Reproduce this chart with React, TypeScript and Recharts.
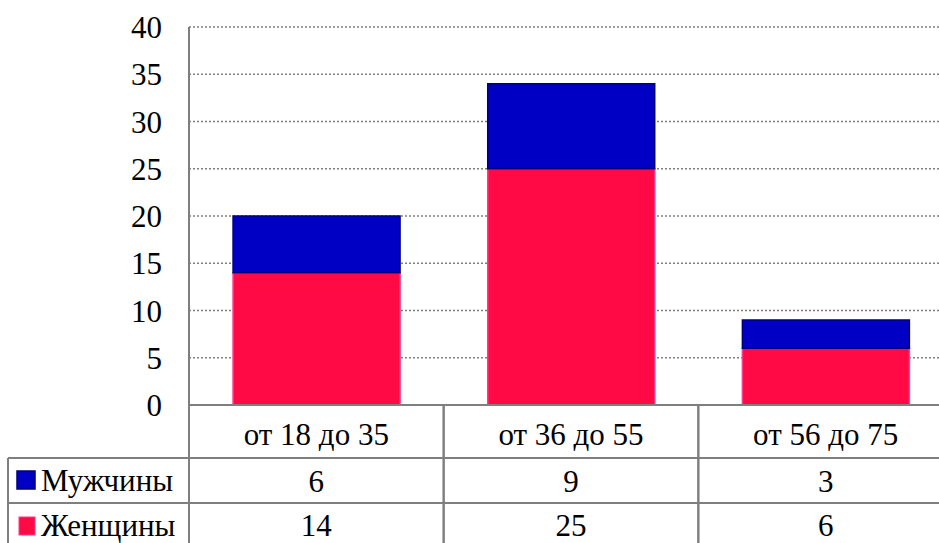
import React from "react";
import { BarChart, Bar, XAxis, YAxis, CartesianGrid } from "recharts";

const categories = ["от 18 до 35", "от 36 до 55", "от 56 до 75"];
const men = [6, 9, 3];
const women = [14, 25, 6];
const yTicks = [0, 5, 10, 15, 20, 25, 30, 35, 40];
const seriesNames = { men: "Мужчины", women: "Женщины" };

const data = categories.map((c, i) => ({ name: c, men: men[i], women: women[i] }));

const FONT = "'Times New Roman', Tinos, 'Liberation Serif', 'DejaVu Serif', serif";
const LINE = "#7f7f7f";
const HALF = 127.35;
const txt = { fontFamily: FONT, fontSize: 31 };

function TableTick(props: any) {
  const { x, y, payload } = props;
  const i = payload.index;
  const top = y;
  const r1 = 458;
  const r2 = 503;
  const bottom = 543;
  return (
    <g>
      <line x1={x - HALF} y1={top} x2={x - HALF} y2={bottom} stroke={LINE} strokeWidth={2} />
      <line x1={x + HALF} y1={top} x2={x + HALF} y2={bottom} stroke={LINE} strokeWidth={2} />
      <line x1={x - HALF} y1={r1} x2={x + HALF} y2={r1} stroke={LINE} strokeWidth={2} />
      <line x1={x - HALF} y1={r2} x2={x + HALF} y2={r2} stroke={LINE} strokeWidth={2} />
      <text x={x} y={445} textAnchor="middle" style={txt} fill="#000">
        {payload.value}
      </text>
      <text x={x} y={492} textAnchor="middle" style={txt} fill="#000">
        {men[i]}
      </text>
      <text x={x} y={536} textAnchor="middle" style={txt} fill="#000">
        {women[i]}
      </text>
      {i === 0 && (
        <g>
          <line x1={8} y1={r1} x2={x - HALF} y2={r1} stroke={LINE} strokeWidth={2} />
          <line x1={8} y1={r2} x2={x - HALF} y2={r2} stroke={LINE} strokeWidth={2} />
          <line x1={8} y1={r1} x2={8} y2={bottom} stroke={LINE} strokeWidth={2} />
          <rect x={17} y={471} width={18} height={18} fill="#0000C4" stroke="#00007A" strokeWidth={1.5} />
          <rect x={19} y={517} width={16} height={18} fill="#FF0A45" stroke="#FF3A8C" strokeWidth={1} />
          <text x={41} y={491} style={txt} fill="#000">
            {seriesNames.men}
          </text>
          <text x={41} y={536} style={txt} fill="#000">
            {seriesNames.women}
          </text>
        </g>
      )}
    </g>
  );
}

function YTick(props: any) {
  const { x, y, payload } = props;
  return (
    <text x={x} y={y} dy={11} textAnchor="end" style={txt} fill="#000">
      {payload.value}
    </text>
  );
}

export default function App() {
  return (
    <div
      style={{
        position: "absolute",
        left: 0,
        top: 0,
        width: 939,
        height: 543,
        overflow: "hidden",
        background: "#fff",
        fontFamily: FONT,
      }}
    >
      <BarChart
        width={953}
        height={543}
        data={data}
        margin={{ top: 27, right: 0, left: 0, bottom: 0 }}
        barCategoryGap="17.3%"
      >
        <CartesianGrid
          horizontal={true}
          vertical={false}
          stroke="#7f7f7f"
          strokeDasharray="2 2"
          strokeWidth={1.5}
        />
        <YAxis
          width={189}
          domain={[0, 40]}
          ticks={yTicks}
          interval={0}
          tickLine={false}
          tickSize={0}
          tickMargin={27}
          axisLine={{ stroke: LINE, strokeWidth: 2 }}
          tick={(p: any) => <YTick {...p} />}
        />
        <XAxis
          dataKey="name"
          height={138}
          interval={0}
          tickLine={false}
          tickSize={0}
          tickMargin={0}
          axisLine={{ stroke: LINE, strokeWidth: 2 }}
          tick={(p: any) => <TableTick {...p} />}
        />
        <Bar
          dataKey="women"
          stackId="a"
          fill="#FF0A45"
          stroke="#FF3A8C"
          strokeWidth={1.5}
          isAnimationActive={false}
        />
        <Bar
          dataKey="men"
          stackId="a"
          fill="#0000C4"
          stroke="#00007A"
          strokeWidth={1.5}
          isAnimationActive={false}
        />
      </BarChart>
    </div>
  );
}
